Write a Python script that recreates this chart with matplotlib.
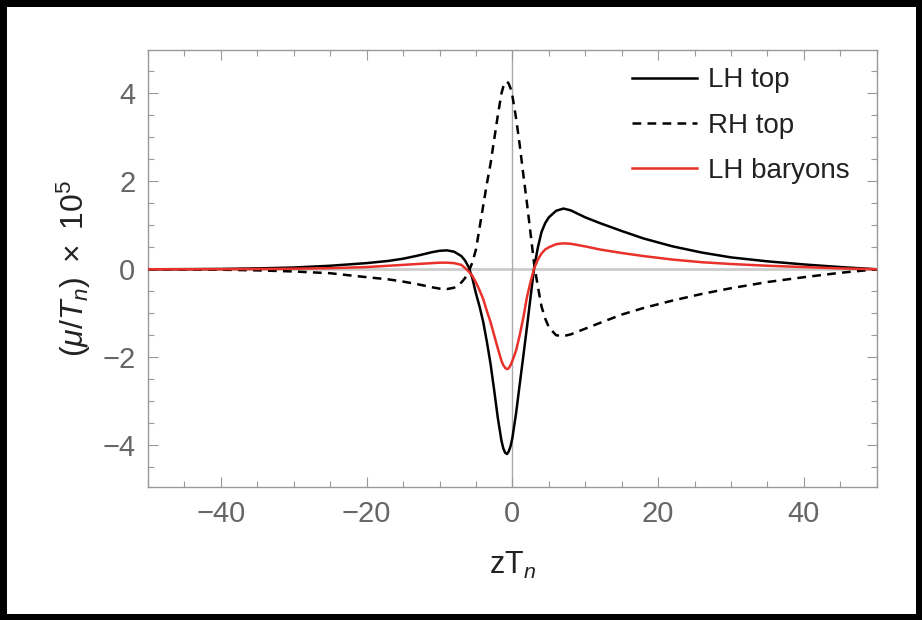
import matplotlib
matplotlib.use('Agg')
import matplotlib.pyplot as plt
from matplotlib.ticker import MultipleLocator

plt.rcParams['font.family'] = ['Liberation Sans', 'DejaVu Sans']
plt.rcParams['mathtext.fontset'] = 'custom'
plt.rcParams['mathtext.rm'] = 'Liberation Sans'
plt.rcParams['mathtext.it'] = 'Liberation Sans:italic'

# sampled positions zT_n
z = [-50, -45, -40, -35, -30, -25, -20, -17, -15, -13, -11, -10, -9, -8, -7,
     -6.5, -6, -5.5, -5, -4.5, -4, -3.5, -3, -2.5, -2,
     -1.5, -1.25, -1, -0.75, -0.5, -0.25, 0,
     0.5, 1, 1.5, 2, 2.5, 3, 3.5, 4, 4.5, 5,
     6, 7, 8, 10, 12, 15, 18, 22, 26, 30, 35, 40, 45, 50]

# (mu/T_n) x 10^5
lh_top = [0, 0.003, 0.008, 0.02, 0.04, 0.08, 0.14, 0.19, 0.24, 0.31, 0.39, 0.42, 0.43, 0.40, 0.30,
          0.2, 0.05, -0.2, -0.55, -0.85, -1.2, -1.65, -2.15, -2.75, -3.38,
          -3.9, -4.07, -4.17, -4.2, -4.14, -4.02, -3.83,
          -3.28, -2.62, -1.97, -1.31, -0.62, 0.05, 0.5, 0.85, 1.05, 1.18,
          1.33, 1.38, 1.34, 1.18, 1.05, 0.87, 0.70, 0.52, 0.38, 0.27, 0.18, 0.11, 0.05, 0]

rh_top = [0, -0.005, -0.01, -0.025, -0.05, -0.09, -0.18, -0.23, -0.28, -0.34, -0.41, -0.44, -0.45, -0.42, -0.30,
          -0.2, -0.05, 0.15, 0.45, 0.95, 1.45, 1.95, 2.4, 2.95, 3.5,
          4.0, 4.15, 4.24, 4.27, 4.22, 4.11, 3.94,
          3.44, 2.83, 2.15, 1.5, 0.8, 0.1, -0.4, -0.85, -1.12, -1.32,
          -1.5, -1.52, -1.48, -1.35, -1.22, -1.03, -0.88, -0.71, -0.56, -0.43, -0.29, -0.18, -0.08, 0]

lh_baryons = [0, 0.001, 0.002, 0.005, 0.012, 0.025, 0.05, 0.08, 0.1, 0.12, 0.14, 0.15, 0.15, 0.14, 0.1,
              0.03, -0.05, -0.15, -0.3, -0.48, -0.68, -0.95, -1.2, -1.5, -1.8,
              -2.08, -2.18, -2.24, -2.27, -2.25, -2.18, -2.08,
              -1.85, -1.5, -1.1, -0.63, -0.28, 0.03, 0.22, 0.36, 0.45, 0.5,
              0.57, 0.59, 0.58, 0.52, 0.45, 0.37, 0.30, 0.22, 0.16, 0.12, 0.08, 0.05, 0.02, 0]

fig = plt.figure(figsize=(9.22, 6.2), dpi=100)
fig.patch.set_edgecolor('black')
fig.patch.set_linewidth(9)
ax = fig.add_axes([0.1605, 0.2145, 0.7905, 0.7045])

ax.axhline(0, color='#cccccc', lw=2, zorder=1)
ax.axvline(0, color='#aaaaaa', lw=1, zorder=1)

ax.plot(z, lh_top, color='black', lw=1.8, label='LH top', zorder=3)
ax.plot(z, rh_top, color='black', lw=1.8, ls=(0, (3.5, 2.5)), label='RH top', zorder=3)
ax.plot(z, lh_baryons, color='#e8312a', lw=1.8, label='LH baryons', zorder=3)

ax.set_xlim(-50, 50)
ax.set_ylim(-4.95, 4.98)
ax.xaxis.set_major_locator(MultipleLocator(20))
ax.xaxis.set_minor_locator(MultipleLocator(5))
ax.yaxis.set_major_locator(MultipleLocator(2))
ax.yaxis.set_minor_locator(MultipleLocator(0.5))
ax.tick_params(which='both', direction='in', top=True, right=True, color='#999999',
               labelcolor='#666666', labelsize=21)
ax.tick_params(which='major', length=7, width=0.8, pad=9)
ax.tick_params(which='minor', length=4, width=0.8)
for s in ax.spines.values():
    s.set_color('#999999')
    s.set_linewidth(1)

ax.set_xlabel(r'zT$_{n}$', fontsize=22, color='#222222')
ax.set_ylabel(r'$(\mu/T_n)\ \times\ 10^5$', fontsize=23, color='#222222')
ax.xaxis.set_label_coords(0.5, -0.145)
ax.yaxis.set_label_coords(-0.075, 0.5)

leg = ax.legend(loc='upper left', fontsize=20, frameon=False, handlelength=2.35,
                handletextpad=0.4, labelspacing=0.7, borderpad=0, borderaxespad=0,
                bbox_to_anchor=(0.664, 0.961))
for t in leg.get_texts():
    t.set_color('#222222')

fig.savefig('out.png', dpi=100, edgecolor=fig.get_edgecolor())
